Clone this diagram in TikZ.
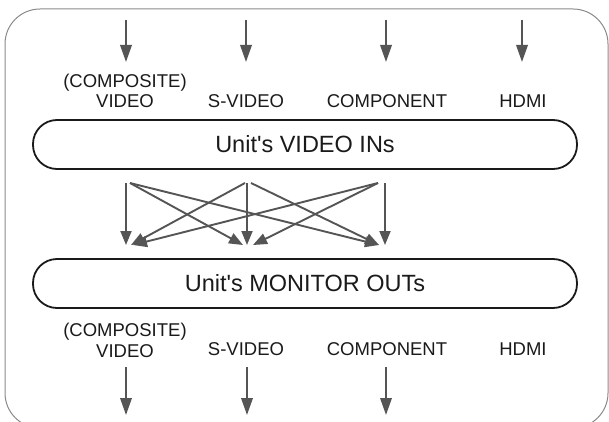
\documentclass[tikz,border=0pt]{standalone}
\usepackage{fontspec}
\setmainfont{Liberation Sans}[Ligatures=TeXOff]
\usetikzlibrary{arrows.meta}
\definecolor{arr}{HTML}{555555}
\definecolor{framec}{HTML}{8A8A8A}
\definecolor{ink}{HTML}{1A1A1A}
\begin{document}
\begin{tikzpicture}[x=1pt,y=-1pt,
 flow/.style={draw=arr, line width=1.9pt, -{Triangle[length=17pt,width=11.5pt,fill=arr]}},
 cross/.style={draw=arr, line width=1.9pt, -{Triangle[length=14pt,width=11pt,fill=arr]}},
 lbl/.style={text=ink, font=\fontsize{18.5}{20.5}\selectfont, inner sep=0pt, anchor=base, align=center},
 bar/.style={draw=ink, line width=1.8pt, rounded corners=24pt, minimum width=544pt, minimum height=49pt, inner sep=0pt, text=ink, font=\fontsize{23.5}{28}\selectfont},
]
\useasboundingbox (0,0) rectangle (609,422);
\begin{scope}
\clip (0,0) rectangle (609,422);
\draw[framec, line width=1pt, rounded corners=35pt] (5,9) rectangle (608,428);
\end{scope}

% bars
\node[bar] (vin) at (305,144.5) {Unit's VIDEO INs};
\node[bar] (mout) at (305,283.5) {Unit's MONITOR OUTs};

% top labels
\node[lbl] (lc) at (125,108) {(COMPOSITE)\\VIDEO};
\node[lbl] (ls) at (246,108) {S-VIDEO};
\node[lbl] (lp) at (387,108) {COMPONENT};
\node[lbl] (lh) at (523,108) {HDMI};

% top input arrows
\foreach \n/\x in {1/126,2/246,3/386,4/522}{
  \coordinate (ia\n) at (\x,20);
  \coordinate (ib\n) at (\x,62);
  \draw[flow] (ia\n) -- (ib\n);
}

% crossing arrows
\coordinate (s1) at (126,183);
\coordinate (s2) at (247,183);
\coordinate (s3) at (385,183);
\coordinate (t1) at (126,245);
\coordinate (t2) at (247,245);
\coordinate (t3) at (385,245);
\draw[cross] (s1) -- (t1);
\draw[cross] (s2) -- (t2);
\draw[cross] (s3) -- (t3);
\draw[cross] ([xshift=4pt]s1) -- ([xshift=-4pt]t2);
\draw[cross] ([xshift=4pt]s1) -- ([xshift=-6pt]t3);
\draw[cross] ([xshift=-2pt]s2) -- ([xshift=5pt]t1);
\draw[cross] ([xshift=4pt]s2) -- ([xshift=-6pt]t3);
\draw[cross] ([xshift=-7pt]s3) -- ([xshift=7pt]t1);
\draw[cross] ([xshift=-7pt]s3) -- ([xshift=6pt]t2);

% bottom labels
\node[lbl] (bc) at (125,357) {(COMPOSITE)\\VIDEO};
\node[lbl] (bs) at (246,355) {S-VIDEO};
\node[lbl] (bp) at (387,355) {COMPONENT};
\node[lbl] (bh) at (523,355) {HDMI};

% bottom output arrows
\foreach \n/\x in {1/126,2/247,3/386}{
  \coordinate (oa\n) at (\x,367);
  \coordinate (ob\n) at (\x,415);
  \draw[flow] (oa\n) -- (ob\n);
}
\end{tikzpicture}
\end{document}
